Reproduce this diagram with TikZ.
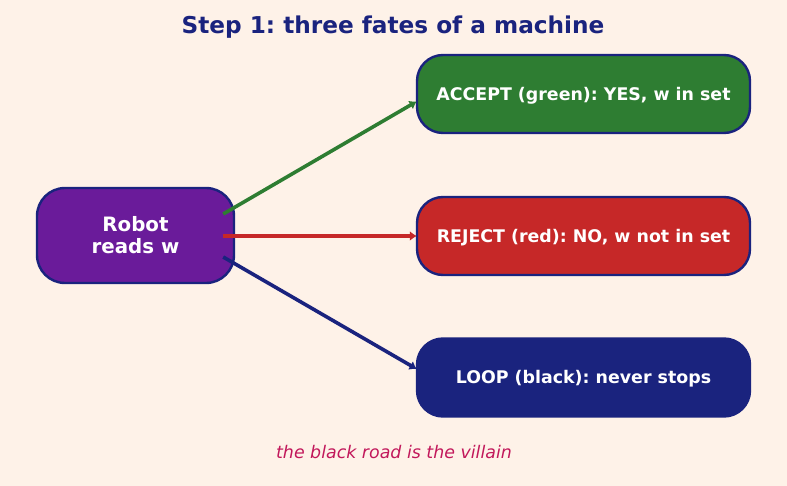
\documentclass[tikz,border=0pt]{standalone}
\usepackage{fontspec}
\setmainfont{DejaVu Sans}
\usetikzlibrary{arrows.meta,calc}
\definecolor{bg}{HTML}{FEF2E8}
\definecolor{navy}{HTML}{1A237E}
\definecolor{grn}{HTML}{2E7D32}
\definecolor{rd}{HTML}{C62828}
\definecolor{purp}{HTML}{6A1B9A}
\definecolor{crim}{HTML}{C2185B}
\frenchspacing
\tikzset{
  fate/.style={draw=navy, line width=2.4pt, rounded corners=26pt, minimum width=333pt, minimum height=78pt, text=white, font=\bfseries\fontsize{17.4}{20}\selectfont, inner sep=0pt, text height=12.7pt, text depth=0pt},
  arr/.style={line width=3.6pt, -{Latex[length=7pt,width=10pt]}, shorten >=-1pt},
}
\begin{document}
\begin{tikzpicture}[x=1pt,y=-1pt]
\fill[bg] (0,0) rectangle (787,486);
\useasboundingbox (0,0) rectangle (787,486);
\node[text=navy, font=\bfseries\fontsize{23.2}{27}\selectfont, text height=16.9pt, text depth=0pt] (title) at (393,25) {Step 1: three fates of a machine};
\node[draw=navy, fill=purp, line width=2.4pt, rounded corners=28pt, minimum width=197pt, minimum height=95pt, text=white, align=center, font=\bfseries\fontsize{19.8}{22}\selectfont, inner sep=0pt] (robot) at (135.5,235.5) {Robot\\reads w};
\node[fate, fill=grn] (acc) at (583.5,94) {ACCEPT (green): YES, w in set};
\node[fate, fill=rd] (rej) at (583.5,236) {REJECT (red): NO, w not in set};
\node[fate, fill=navy] (loop) at (583.5,377.5) {LOOP (black): never stops};
\coordinate (s1) at ($(robot.east)+(-12,-21.5)$);
\coordinate (s2) at ($(robot.east)+(-12,0.5)$);
\coordinate (s3) at ($(robot.east)+(-12,21.5)$);
\draw[arr, grn] (s1) -- ($(acc.west)+(0,8)$);
\draw[arr, rd] (s2) -- (rej.west);
\draw[arr, navy] (s3) -- ($(loop.west)+(0,-9)$);
\node[text=crim, font=\itshape\fontsize{17.4}{20}\selectfont, text height=12.7pt, text depth=0pt] (cap) at (394,452) {the black road is the villain};
\end{tikzpicture}
\end{document}
